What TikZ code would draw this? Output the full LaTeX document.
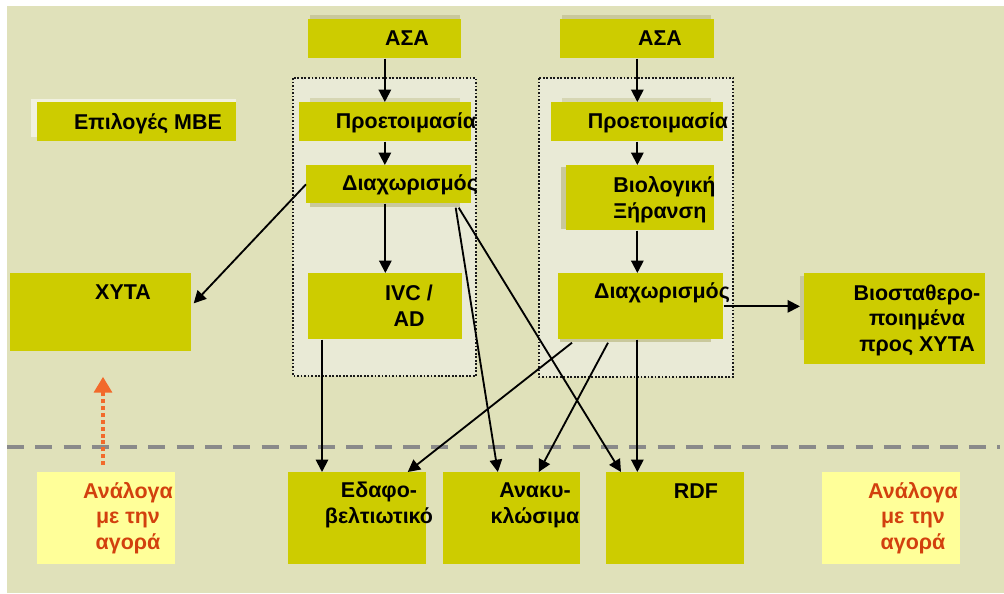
\documentclass[tikz,border=0pt]{standalone}
\usepackage{fontspec}
\setmainfont{Liberation Sans}
\usetikzlibrary{arrows.meta,calc}

\definecolor{bgkhaki}{HTML}{E0E1BA}
\definecolor{grpfill}{HTML}{E9EAD6}
\definecolor{boxolive}{HTML}{CDCC00}
\definecolor{paleyellow}{HTML}{FFFF99}
\definecolor{mktred}{HTML}{D2400E}
\definecolor{mktorange}{HTML}{F26A2B}
\definecolor{lineGray}{HTML}{8A8A8A}
\definecolor{shadeGray}{HTML}{C9C89C}

\begin{document}
\begin{tikzpicture}[x=0.02cm, y=-0.02cm,
    wh/.style 2 args={minimum width=#1*0.02cm, minimum height=#2*0.02cm},
    box/.style={fill=boxolive, inner sep=0pt, anchor=north west},
    pale/.style={fill=paleyellow, inner sep=0pt, anchor=north west},
    grp/.style={draw=black!90, densely dotted, line width=1pt, fill=grpfill},
    shade/.style={fill=shadeGray},
    txt/.style={font=\bfseries\fontsize{12.2}{14.5}\selectfont, inner sep=0pt, anchor=base, align=center},
    mkttxt/.style={txt, text=mktred},
    flow/.style={-{Triangle[length=7pt,width=7pt]}, line width=1.05pt},
    mkt/.style={draw=mktorange, line width=2.8pt, dash pattern=on 2.3pt off 1.6pt,
        -{Triangle[length=9pt,width=10pt]}}]
    \useasboundingbox (0,0) rectangle (1004,593);
    \fill[white] (0,0) rectangle (1004,593);
    \fill[bgkhaki] (7,6) rectangle (1004,593);

    \draw[lineGray, line width=2.3pt, dash pattern=on 9.7pt off 6.4pt] (7,447) -- (1000,447);

    \draw[grp] (293,78) rectangle (476,376);
    \draw[grp] (539,78) rectangle (733,377);

    \fill[shade] (310,15) rectangle (460,19);
    \fill[shade] (562,15) rectangle (711,19);
    \fill[shadeGray!60!grpfill] (310,98) rectangle (460,102);
    \fill[shadeGray!60!grpfill] (562,98) rectangle (711,102);
    \fill[shade] (310,203) rectangle (460,207);
    \fill[shade] (561,167) rectangle (566,229);
    \fill[shade] (560,339) rectangle (711,342);
    \fill[shade] (800,276) rectangle (804,340);
    \fill[white!55!bgkhaki] (31,99) rectangle (236,102);
    \fill[white!55!bgkhaki] (31,99) rectangle (37,137);

    \node[box, wh={153}{39}] (asaL) at (308,19) {};
    \node[box, wh={154}{39}] (asaR) at (560,19) {};
    \node[box, wh={199}{39}] (mbe) at (37,102) {};
    \node[box, wh={172}{39}] (prL) at (299,102) {};
    \node[box, wh={172}{39}] (prR) at (551,102) {};
    \node[box, wh={165}{38}] (dxL) at (306,165) {};
    \node[box, wh={148}{65}] (bio) at (566,165) {};
    \node[box, wh={181}{78}] (xyta) at (10,273) {};
    \node[box, wh={154}{66}] (ivc) at (308,273) {};
    \node[box, wh={165}{66}] (dxR) at (558,273) {};
    \node[box, wh={181}{91}] (bst) at (804,273) {};
    \node[pale, wh={138}{92}] (anL) at (37,472) {};
    \node[box, wh={138}{92}] (edaf) at (288,472) {};
    \node[box, wh={137}{92}] (anak) at (443,472) {};
    \node[box, wh={138}{92}] (rdf) at (606,472) {};
    \node[pale, wh={138}{92}] (anR) at (822,472) {};

    % multi-line labels sit on the baseline of their last line
    \node[txt] (asaLt) at (407,45) {ΑΣΑ};
    \node[txt] (asaRt) at (660,45) {ΑΣΑ};
    \node[txt] (mbet) at (148,129) {Επιλογές ΜΒΕ};
    \node[txt] (prLt) at (406,128) {Προετοιμασία};
    \node[txt] (prRt) at (658,128) {Προετοιμασία};
    \node[txt] (dxLt) at (410,190) {Διαχωρισμός};
    \node[txt, align=left, anchor=base west] (biot) at (613,218) {Βιολογική\\Ξήρανση};
    \node[txt] (xytat) at (123,299) {ΧΥΤΑ};
    \node[txt] (ivct) at (409,326) {IVC /\\AD};
    \node[txt] (dxRt) at (662,298) {Διαχωρισμός};
    \node[txt] (bstt) at (917,351) {Βιοσταθερο-\\ποιημένα\\προς ΧΥΤΑ};
    \node[mkttxt] (anLt) at (128,549) {Ανάλογα\\με την\\αγορά};
    \node[txt] (edaft) at (379,523) {Εδαφο-\\βελτιωτικό};
    \node[txt] (anakt) at (535,523) {Ανακυ-\\κλώσιμα};
    \node[txt] (rdft) at (696,498) {RDF};
    \node[mkttxt] (anRt) at (913,549) {Ανάλογα\\με την\\αγορά};

    \draw[flow] (asaL.south) -- (asaL.south |- prL.north);
    \draw[flow] (asaL.south |- prL.south) -- (asaL.south |- dxL.north);
    \draw[flow] (ivc.north |- dxL.south) -- (ivc.north);
    \draw[flow] (dxL.west) -- ($(xyta.east)+(2,-9)$);
    \draw[flow] ($(dxL.south east)+(-16,4)$) -- ($(anak.north)+(-14,0)$);
    \draw[flow] ($(dxL.south east)+(-13,4)$) -- ($(rdf.north west)+(15,0)$);
    \draw[flow] ($(ivc.south west)+(14,0)$) -- ($(edaf.north west)+(34,0)$);

    \draw[flow] (asaR.south) -- (asaR.south |- prR.north);
    \draw[flow] (asaR.south |- prR.south) -- (asaR.south |- bio.north);
    \draw[flow] (asaR.south |- bio.south) -- (asaR.south |- dxR.north);
    \draw[flow] ($(dxR.south west)+(14,3)$) -- ($(edaf.north east)+(-19,0)$);
    \draw[flow] ($(dxR.south west)+(50,3)$) -- ($(anak.north east)+(-42,0)$);
    \draw[flow] (asaR.south |- dxR.south) -- (asaR.south |- rdf.north);
    \draw[flow] (dxR.east) -- ($(dxR.east -| bst.west)+(-4,0)$);

    \draw[mkt] ($(anL.north west)+(66,-7)$) -- ($(xyta.south west)+(93,25)$);
\end{tikzpicture}
\end{document}
